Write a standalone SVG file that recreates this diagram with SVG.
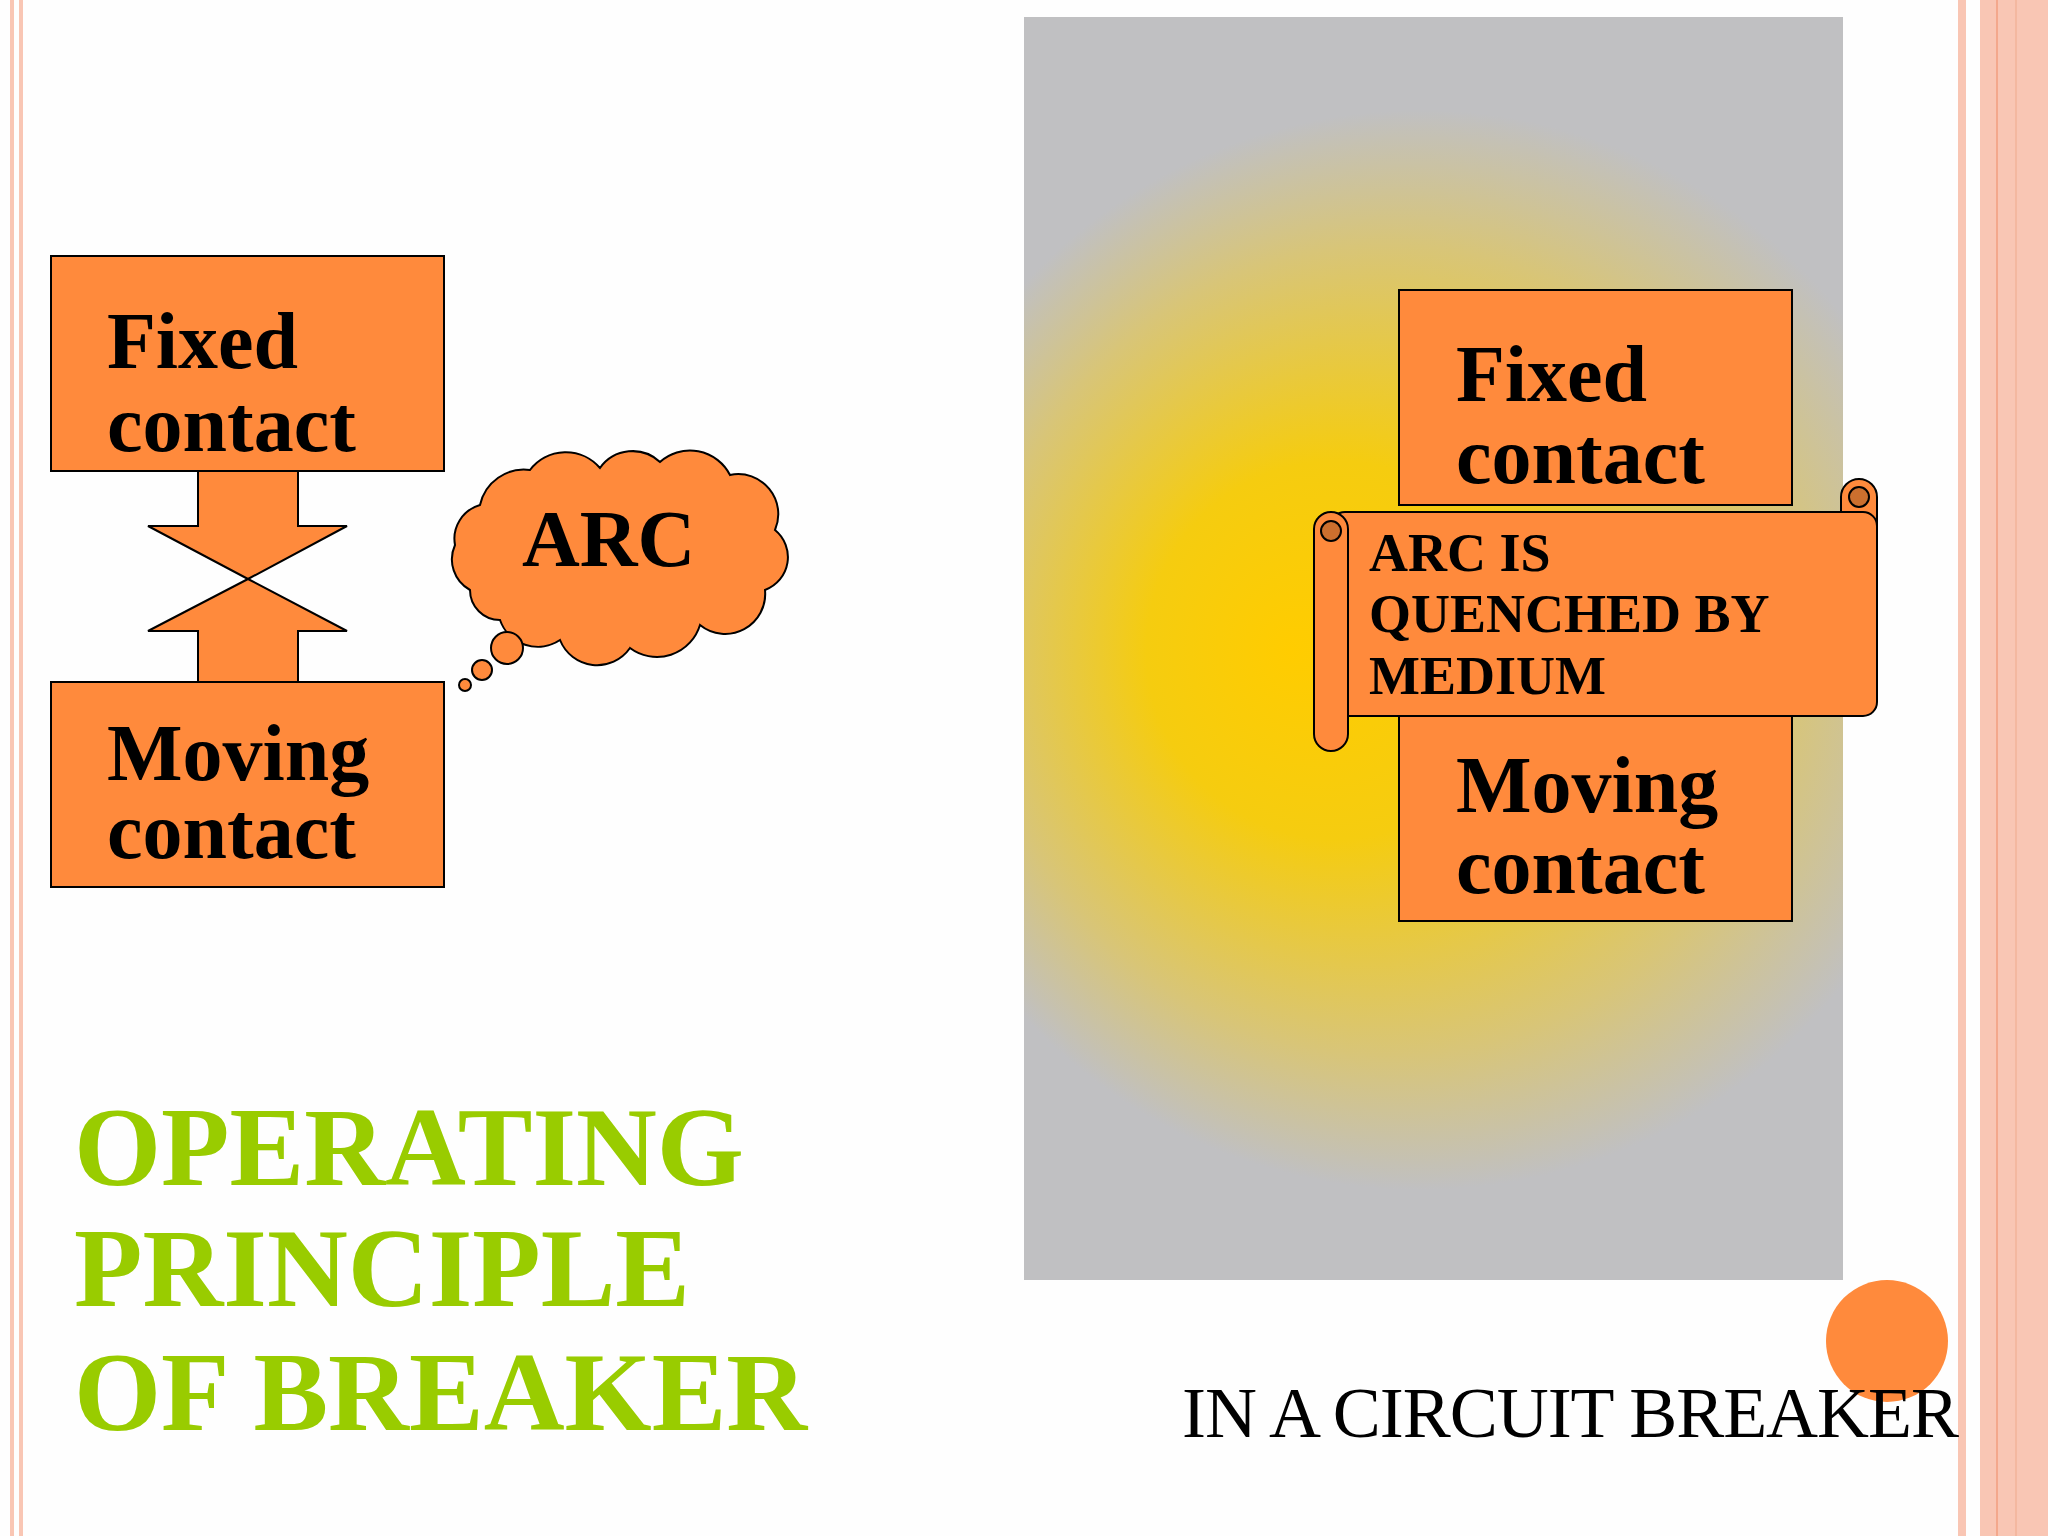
<svg xmlns="http://www.w3.org/2000/svg" width="2048" height="1536" viewBox="0 0 2048 1536">
<style>
.box{fill:#ff8a3c;stroke:#000;stroke-width:2}
.lbl{font-family:"Liberation Serif",serif;font-weight:bold;font-size:80px;fill:#000}
.sc{font-family:"Liberation Serif",serif;font-weight:bold;font-size:54px;fill:#000}
.ttl{font-family:"Liberation Serif",serif;font-weight:bold;font-size:112px;fill:#99cc00}
</style>
<defs>
<radialGradient id="glow" gradientUnits="userSpaceOnUse" cx="1420" cy="650" r="540" fx="1290" fy="650">
<stop offset="0" stop-color="#ffcc00"/>
<stop offset="0.35" stop-color="#f5cc10"/>
<stop offset="0.75" stop-color="#d8c578"/>
<stop offset="1" stop-color="#c0c0c2"/>
</radialGradient>
</defs>
<rect width="2048" height="1536" fill="#fefefe"/>
<g id="borders" fill="#f9c6b4">
<rect x="10" y="0" width="4" height="1536"/>
<rect x="19" y="0" width="4" height="1536"/>
<rect x="1958" y="0" width="8" height="1536"/>
<rect x="1980" y="0" width="68" height="1536"/>
<rect x="1996" y="0" width="2" height="1536" fill="#f4a88c"/>
<rect x="2015" y="0" width="2" height="1536" fill="#f4b8a0"/>
</g>
<rect id="panel" x="1024" y="17" width="819" height="1263" fill="url(#glow)"/>
<g id="connectors">
<path class="box" d="M198,471 H298 V526 H347 L248,579 L148,526 H198 Z"/>
<path class="box" d="M198,682 H298 V631 H347 L248,579 L148,631 H198 Z"/>
</g>
<g id="fixed-left">
<rect class="box" x="51" y="256" width="393" height="215"/>
<text class="lbl" x="107" y="368">Fixed</text>
<text class="lbl" x="107" y="451">contact</text>
</g>
<g id="moving-left">
<rect class="box" x="51" y="682" width="393" height="205"/>
<text class="lbl" x="107" y="780">Moving</text>
<text class="lbl" x="107" y="858">contact</text>
</g>
<g id="arc-cloud">
<path class="box" d="M470,590 A35,35 0 0 1 455,545 A35,35 0 0 1 480,505 A45,45 0 0 1 530,470 A45,45 0 0 1 600,468 A40,40 0 0 1 660,462 A45,45 0 0 1 730,475 A40,40 0 0 1 775,530 A35,35 0 0 1 765,590 A40,40 0 0 1 700,625 A45,45 0 0 1 630,648 A40,40 0 0 1 560,640 A40,40 0 0 1 500,620 A30,30 0 0 1 470,590 Z"/>
<circle class="box" cx="507" cy="648" r="16"/>
<circle class="box" cx="482" cy="670" r="10"/>
<circle class="box" cx="465" cy="685" r="6"/>
<text class="lbl" x="522" y="566">ARC</text>
</g>
<g id="fixed-right">
<rect class="box" x="1399" y="290" width="393" height="215"/>
<text class="lbl" x="1456" y="401">Fixed</text>
<text class="lbl" x="1456" y="483">contact</text>
</g>
<g id="moving-right">
<rect class="box" x="1399" y="716" width="393" height="205"/>
<text class="lbl" x="1456" y="812">Moving</text>
<text class="lbl" x="1456" y="893">contact</text>
</g>
<g id="scroll">
<rect class="box" x="1841" y="479" width="36" height="70" rx="18"/>
<rect class="box" x="1331" y="512" width="546" height="204" rx="14"/>
<circle cx="1859" cy="497" r="10" fill="#cc6f2e" stroke="#000" stroke-width="2"/>
<rect class="box" x="1314" y="512" width="34" height="239" rx="17"/>
<circle cx="1331" cy="531" r="10" fill="#cc6f2e" stroke="#000" stroke-width="2"/>
<text class="sc" x="1369" y="571">ARC IS</text>
<text class="sc" x="1369" y="632">QUENCHED BY</text>
<text class="sc" x="1369" y="694">MEDIUM</text>
</g>
<circle id="dot" cx="1887" cy="1341" r="61" fill="#ff8a3c"/>
<g id="title">
<text class="ttl" x="74" y="1185">OPERATING</text>
<text class="ttl" x="74" y="1306">PRINCIPLE</text>
<text class="ttl" x="74" y="1430">OF BREAKER</text>
</g>
<text x="1182" y="1437" font-family="Liberation Serif,serif" font-size="72" fill="#000" textLength="777">IN A CIRCUIT BREAKER</text>
</svg>
